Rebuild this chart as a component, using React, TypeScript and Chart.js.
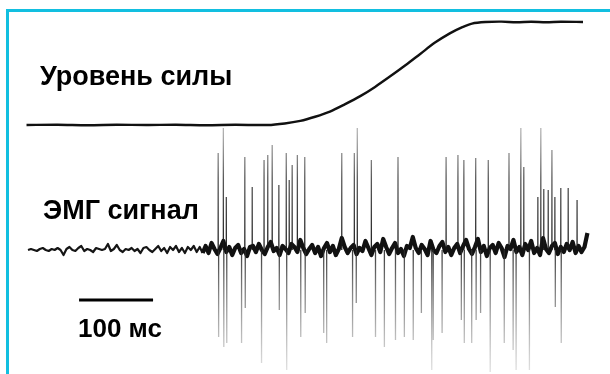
import React, { useEffect, useRef } from "react";
import { Chart, registerables } from "chart.js";
Chart.register(...registerables);

// ---- Force level trace (percent of max force vs time, ms) ----
const forceTimeMs = [-2, 40, 80, 120, 160, 200, 240, 280, 324, 347, 368, 388, 408, 428, 449, 469, 489, 510, 530, 550, 570, 587, 600, 618, 640, 660, 680, 700, 720, 750];
const forceLevel = [0, 0.3, -0.2, 0.2, 0, 0.3, -0.2, 0.2, 0, 1.5, 4, 8, 13, 20, 28, 37, 47, 58, 69, 80, 89, 95, 98.5, 100, 100.4, 99.7, 100.3, 99.8, 100.3, 100];

// ---- EMG baseline (mV), sampled every 4 ms from 0 ms ----
const emgStartMs = 0;
const emgStepMs = 4;
const emgOnsetIndex = 59;
const emgBaseline = [
  0, 0.01, 0, -0.01, 0.01, 0.02, 0, -0.01, 0.01, 0,
  0.02, 0, -0.05, 0.01, 0.03, 0, -0.01, 0.02, 0.04, -0.01,
  0.01, 0, -0.02, 0.02, 0.01, 0, 0.01, 0.06, -0.01, 0.01,
  0.05, 0, -0.02, 0.01, 0, 0.02, -0.01, 0.01, -0.03, 0.02,
  0.03, 0, -0.02, 0.01, 0.04, -0.01, 0.02, -0.03, 0.03, 0,
  0.04, -0.02, 0.02, -0.03, 0.03, 0, 0.04, -0.02, 0.03, -0.03,
  0.04, -0.03, 0.07, 0.01, -0.04, 0.02, 0.09, -0.02, 0.03, -0.05,
  0.02, 0.05, -0.03, 0.01, -0.06, 0.03, 0.04, -0.02, 0.06, 0.0,
  -0.04, 0.03, 0.08, -0.01, 0.02, -0.05, 0.04, 0.01, -0.03, 0.06,
  0.03, -0.02, 0.1, 0.02, -0.04, 0.01, 0.05, -0.03, 0.03, -0.06,
  0.02, 0.07, -0.02, 0.04, -0.05, 0.01, 0.12, 0.03, -0.03, 0.02,
  0.05, -0.04, 0.02, -0.01, 0.09, 0.02, -0.05, 0.03, 0.06, -0.02,
  0.11, 0.03, -0.04, 0.02, 0.07, -0.03, 0.01, -0.06, 0.04, 0.02,
  0.13, 0.02, -0.03, 0.05, 0.01, -0.05, 0.09, 0.0, -0.03, 0.04,
  0.08, -0.02, 0.03, -0.05, 0.02, 0.06, -0.03, 0.04, 0.1, 0.01,
  -0.04, 0.03, 0.11, -0.02, 0.04, -0.06, 0.02, 0.05, -0.03, 0.07,
  0.02, -0.07, 0.04, 0.01, 0.1, -0.02, 0.03, -0.05, 0.06, 0.0,
  0.09, -0.03, 0.02, -0.05, 0.12, 0.01, -0.03, 0.04, 0.07, -0.04,
  0.03, -0.02, 0.06, 0.0, 0.08, -0.03, 0.04, -0.02, 0.03, 0.17,
];

// ---- EMG spikes: time (ms), positive peak (mV), negative peak (mV) ----
const spikeTimeMs = [
  257, 264, 268, 288, 293, 303, 315, 319, 324, 330,
  339, 349, 353, 357, 364, 368, 374, 399, 403, 424,
  438, 441, 443, 445, 464, 469, 481, 496, 500, 508,
  520, 531, 545, 547, 559, 565, 581, 585, 589, 599,
  605, 611, 622, 624, 643, 650, 655, 659, 666, 670,
  677, 689, 693, 697, 703, 708, 712, 720, 730, 742,
];
const spikeUpMv = [
  0.97, 1.22, 0.53, null, 0.93, 0.63, null, 0.9, 0.95, 1.05,
  0.65, 0.97, 0.7, 0.85, 0.95, null, 0.93, null, null, 0.97,
  null, 0.97, null, 1.22, 0.9, null, null, null, 0.93, null,
  null, null, null, null, null, 0.93, 0.95, null, 0.9, null,
  0.92, null, 0.9, null, null, 0.97, null, null, 1.22, 0.83,
  null, 0.53, 1.22, 0.61, 0.6, 1.0, 0.53, 0.62, 0.62, 0.5,
];
const spikeDownMv = [
  -0.87, -0.97, -0.93, -0.93, -0.58, null, -1.13, null, null, null,
  -0.6, -1.2, null, null, null, -0.87, -0.63, -0.83, -0.93, null,
  -0.87, null, -0.53, null, null, -0.87, -0.97, -0.9, null, -0.87,
  -0.9, -0.63, -1.2, -0.9, -0.83, null, null, -0.7, -0.93, -0.93,
  -0.7, -0.63, null, -1.22, -0.93, null, -1.0, -1.2, null, null,
  -1.2, null, null, null, null, null, -0.57, -0.93, null, null,
];

// ---- Scale bar ----
const scaleBarStartMs = 69;
const scaleBarLengthMs = 100;
const scaleBarLevelMv = -0.5;

const labelForce = "Уровень силы";
const labelEmg = "ЭМГ сигнал";
const labelScale = "100 мс";

export default function App() {
  const ref = useRef<HTMLCanvasElement | null>(null);

  useEffect(() => {
    if (!ref.current) return;

    const forceData = forceTimeMs.map((t, i) => ({ x: t, y: forceLevel[i] }));
    const emgAll = emgBaseline.map((v, i) => ({ x: emgStartMs + i * emgStepMs, y: v }));
    const emgQuiet = emgAll.slice(0, emgOnsetIndex + 1);
    const emgActive = emgAll.slice(emgOnsetIndex);
    const upData: any[] = [];
    const downData: any[] = [];
    spikeTimeMs.forEach((t, i) => {
      const u = spikeUpMv[i];
      const d = spikeDownMv[i];
      if (u !== null) upData.push({ x: t, y: 0 }, { x: t, y: u }, { x: t, y: null });
      if (d !== null) downData.push({ x: t + 0.6, y: 0 }, { x: t + 0.6, y: d }, { x: t + 0.6, y: null });
    });
    const scaleBar = [
      { x: scaleBarStartMs, y: scaleBarLevelMv },
      { x: scaleBarStartMs + scaleBarLengthMs, y: scaleBarLevelMv },
    ];

    const grad = (dir: number) => (ctx: any) => {
      const chart = ctx.chart;
      const area = chart.chartArea;
      if (!area) return "#555";
      const s = chart.scales.yEmg;
      const y0 = s.getPixelForValue(0);
      const y1 = s.getPixelForValue(dir * 1.2);
      const g = chart.ctx.createLinearGradient(0, y0, 0, y1);
      if (dir > 0) {
        g.addColorStop(0, "rgba(20,20,20,0.95)");
        g.addColorStop(0.6, "rgba(60,60,60,0.85)");
        g.addColorStop(1, "rgba(140,140,140,0.65)");
      } else {
        g.addColorStop(0, "rgba(40,40,40,0.9)");
        g.addColorStop(0.5, "rgba(110,110,110,0.7)");
        g.addColorStop(1, "rgba(190,190,190,0.5)");
      }
      return g;
    };

    const chart = new Chart(ref.current, {
      type: "line",
      data: {
        datasets: [
          { label: "up", data: upData, yAxisID: "yEmg", borderColor: grad(1), borderWidth: 1.3, pointRadius: 0, spanGaps: false, tension: 0 },
          { label: "down", data: downData, yAxisID: "yEmg", borderColor: grad(-1), borderWidth: 1.3, pointRadius: 0, spanGaps: false, tension: 0 },
          { label: "emg-quiet", data: emgQuiet, yAxisID: "yEmg", borderColor: "#151515", borderWidth: 2.2, pointRadius: 0, tension: 0, borderJoinStyle: "round" },
          { label: "emg-active", data: emgActive, yAxisID: "yEmg", borderColor: "#111", borderWidth: 4.2, pointRadius: 0, tension: 0, borderJoinStyle: "round" },
          { label: "force", data: forceData, yAxisID: "yForce", borderColor: "#111", borderWidth: 2.4, pointRadius: 0, tension: 0.3 },
          { label: "scale", data: scaleBar, yAxisID: "yEmg", borderColor: "#000", borderWidth: 3, pointRadius: 0 },
        ],
      },
      options: {
        animation: false,
        responsive: false,
        devicePixelRatio: 1,
        layout: { padding: 0 },
        plugins: { legend: { display: false }, tooltip: { enabled: false } },
        events: [],
        scales: {
          x: { type: "linear", display: false, min: -37.84, max: 786.49 },
          yEmg: { type: "linear", display: false, min: -1.24, max: 2.5 },
          yForce: { type: "linear", display: false, min: -241.74, max: 121.36 },
        },
      },
    });
    return () => chart.destroy();
  }, []);

  const labelStyle: React.CSSProperties = {
    position: "absolute",
    fontFamily: "'Liberation Sans', Arial, sans-serif",
    fontWeight: "bold",
    fontSize: 27,
    lineHeight: "27px",
    color: "#000",
    whiteSpace: "nowrap",
  };

  return (
    <div style={{ position: "fixed", left: 0, top: 0, width: 610, height: 374, background: "#fff", overflow: "hidden" }}>
      <canvas ref={ref} width={610} height={374} style={{ position: "absolute", left: 0, top: 0 }} />
      <div style={{ position: "absolute", left: 6, top: 9, width: 700, height: 400, borderTop: "3px solid #12BFE0", borderLeft: "3px solid #12BFE0" }} />
      <div style={{ ...labelStyle, left: 40, top: 63 }}>{labelForce}</div>
      <div style={{ ...labelStyle, left: 43, top: 197 }}>{labelEmg}</div>
      <div style={{ ...labelStyle, left: 78, top: 315, fontSize: 26 }}>{labelScale}</div>
    </div>
  );
}
